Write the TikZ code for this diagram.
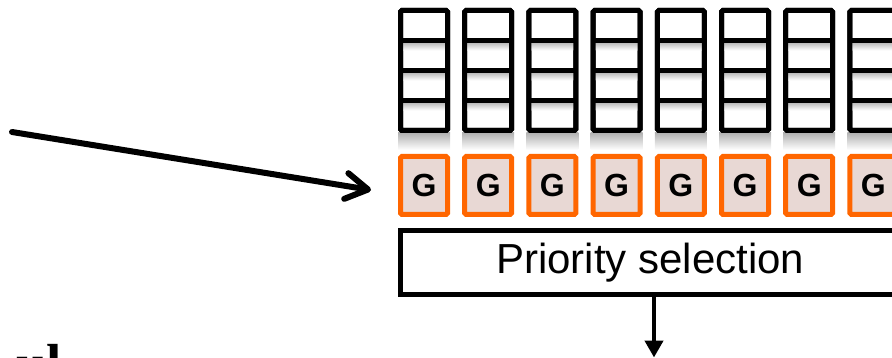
\documentclass[tikz,border=0pt]{standalone}
\usepackage{fontspec}
\setmainfont{Liberation Sans}
\newfontfamily\headserif{Liberation Serif}
\usetikzlibrary{arrows.meta,calc}
\definecolor{gorange}{RGB}{255,102,0}
\definecolor{gfill}{RGB}{232,216,212}
\begin{document}
\begin{tikzpicture}[x=1pt,y=-1pt,
  slot/.style={draw=black,line width=5pt,fill=white,rounded corners=1.5pt,
    minimum width=47pt,minimum height=120pt,inner sep=0pt,outer sep=0pt},
  gbox/.style={draw=gorange,line width=5pt,fill=gfill,rounded corners=1.5pt,
    minimum width=47pt,minimum height=58pt,inner sep=0pt,outer sep=2.5pt,
    font=\bfseries\fontsize{32}{32}\selectfont},
  selbox/.style={draw=black,line width=5pt,fill=white,minimum width=499.5pt,
    minimum height=64pt,inner sep=0pt,outer sep=2.5pt,
    font=\fontsize{42}{42}\selectfont},
  softshade/.style={top color=black!28,bottom color=white,draw=none},
  wire/.style={draw=black,line width=4.5pt}]
\useasboundingbox (0,0) rectangle (892,358);
\clip (0,0) rectangle (892,358);

% queue columns with their entry slots
\foreach \i in {1,...,8}{
  \pgfmathsetmacro{\cx}{424+64.2*(\i-1)}
  % soft shadow below the column
  \shade[top color=black!30,bottom color=white] (\cx-26,133) rectangle (\cx+26,150);
  \node[slot] (col\i) at (\cx,70.5) {};
  % shading under each divider
  \foreach \yy in {40.5,70.5,100.5}{
    \shade[softshade] (\cx-21,\yy+2) rectangle (\cx+21,\yy+10);
  }
  \foreach \yy in {40.5,70.5,100.5}{
    \draw[line width=5pt] (col\i.west |- 0,\yy) -- (col\i.east |- 0,\yy);
  }
  \draw[line width=5pt,rounded corners=1.5pt] (col\i.north west) rectangle (col\i.south east);
  \node[gbox] (g\i) at (\cx,185.5) {G};
}

% selection stage
\node[selbox] (prio) at (650.25,262.5) {Priority selection};

% incoming request arrow
\coordinate (src) at (12,132);
\coordinate (dst) at (371,190);
\draw[line width=6pt,line cap=round,
  -{Straight Barb[length=22pt,width=26pt,round]}] (src) -- (dst);

% output of the selection stage
\coordinate (out) at (654,357.5);
\draw[wire,-{Triangle[length=17pt,width=18pt]}] (prio.south -| out) -- (out);

% heading text below, running off the lower edge
\node[anchor=base west,inner sep=0pt,
  font=\headserif\bfseries\fontsize{55}{55}\selectfont] (heading) at (16,382) {ul};
\end{tikzpicture}
\end{document}
